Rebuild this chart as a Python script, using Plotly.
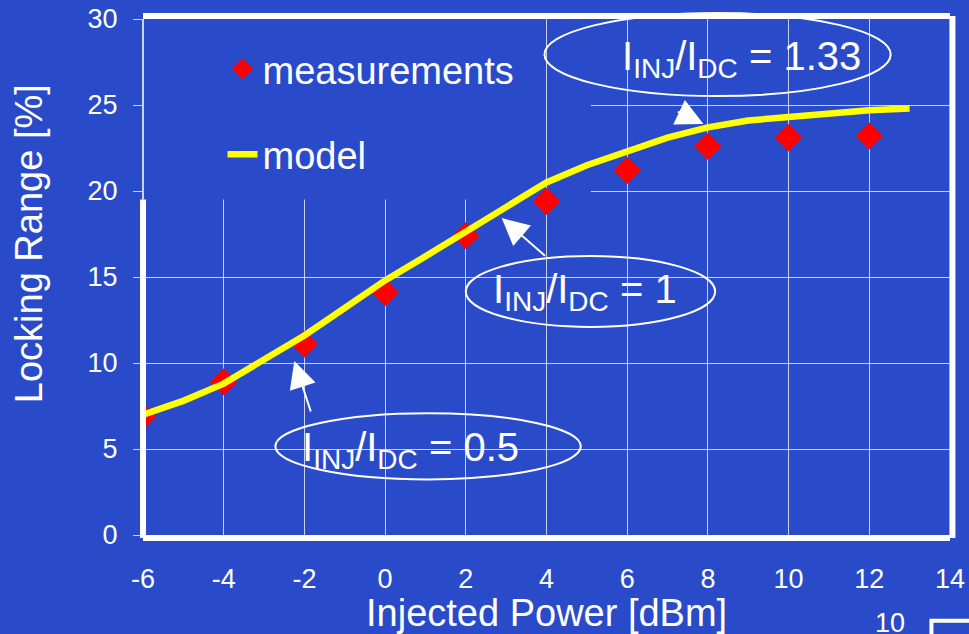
import plotly.graph_objects as go

# ---- data ----
power_meas = [-6, -4, -2, 0, 2, 4, 6, 8, 10, 12]
range_meas = [6.9, 8.9, 11.1, 14.1, 17.4, 19.4, 21.2, 22.6, 23.1, 23.2]

power_model = [-6, -5, -4, -3, -2, -1, 0, 1, 2, 3, 4, 5, 6, 7, 8, 9, 10, 11, 12, 13]
range_model = [7.0, 7.8, 8.8, 10.2, 11.6, 13.2, 14.8, 16.2, 17.6, 19.1, 20.5, 21.5,
               22.3, 23.1, 23.7, 24.1, 24.3, 24.5, 24.7, 24.8]

x_ticks = [-6, -4, -2, 0, 2, 4, 6, 8, 10, 12, 14]
y_ticks = [0, 5, 10, 15, 20, 25, 30]

ratio_labels = ["I<sub>INJ</sub>/I<sub>DC</sub> = 1.33",
                "I<sub>INJ</sub>/I<sub>DC</sub> = 1",
                "I<sub>INJ</sub>/I<sub>DC</sub> = 0.5"]

BG = "#2a4bc9"
FONT = "Liberation Sans, Arial, sans-serif"
GRID = "rgba(255,255,255,0.75)"

fig = go.Figure()
fig.add_trace(go.Scatter(
    x=power_meas, y=range_meas, mode="markers", name="measurements",
    legendgroup="a",
    marker=dict(symbol="diamond", size=21, color="#ff0000", line=dict(width=0)),
))
fig.add_trace(go.Scatter(
    x=power_model, y=range_model, mode="lines", name="model",
    legendgroup="b",
    line=dict(color="#ffff00", width=6.5),
))

XMIN, XMAX, YMIN, YMAX = -6, 14, 0, 30
py = lambda v: (v - YMIN) / (YMAX - YMIN)

shapes = []
# cover for grid in legend area (between grid and traces)
shapes.append(dict(type="rect", xref="x", yref="y", x0=-6, x1=5.1, y0=19.5, y1=30,
                   fillcolor=BG, line=dict(width=0), layer="between"))
shapes.append(dict(type="line", xref="x", yref="y", x0=4, x1=4, y0=19.5, y1=30,
                   line=dict(color=GRID, width=1), layer="between"))
# left border: thick lower part, thin upper part; right border thick
shapes.append(dict(type="line", xref="paper", yref="paper", x0=0, x1=0, y0=-0.006, y1=py(19.5),
                   line=dict(color="white", width=6), layer="above"))
shapes.append(dict(type="line", xref="paper", yref="paper", x0=0, x1=0, y0=py(19.5), y1=1,
                   line=dict(color="white", width=1.5), layer="above"))
shapes.append(dict(type="line", xref="paper", yref="paper", x0=1.003, x1=1.003, y0=-0.006, y1=1.006,
                   line=dict(color="white", width=6), layer="above"))
# ellipses around labels
shapes.append(dict(type="circle", xref="x", yref="paper", x0=3.95, x1=12.53, y0=py(25.52), y1=py(30.35),
                   line=dict(color="white", width=2), layer="above"))
shapes.append(dict(type="circle", xref="x", yref="paper", x0=2.0, x1=8.18, y0=py(12.1), y1=py(16.22),
                   line=dict(color="white", width=2), layer="above"))
shapes.append(dict(type="circle", xref="x", yref="paper", x0=-2.72, x1=4.85, y0=py(3.23), y1=py(7.08),
                   line=dict(color="white", width=2), layer="above"))
# slide-number box fragment
shapes.append(dict(type="rect", xref="paper", yref="paper", x0=0.977, x1=1.2, y0=-0.166, y1=-0.4,
                   line=dict(color="white", width=4), fillcolor="rgba(0,0,0,0)"))

ann = []
txt_font = dict(family=FONT, size=40, color="white")
ann.append(dict(x=8.83, y=27.67, xref="x", yref="y", text=ratio_labels[0], showarrow=False, font=txt_font))
ann.append(dict(x=4.96, y=14.13, xref="x", yref="y", text=ratio_labels[1], showarrow=False, font=txt_font))
ann.append(dict(x=0.63, y=4.94, xref="x", yref="y", text=ratio_labels[2], showarrow=False, font=txt_font))
arrow = dict(showarrow=True, arrowhead=2, arrowsize=2.7, arrowwidth=2, arrowcolor="white",
             xref="x", yref="y", axref="x", ayref="y", text="")
ann.append(dict(arrow, x=7.89, y=23.9, ax=7.22, ay=24.65))
ann.append(dict(arrow, x=2.89, y=18.43, ax=4.0, ay=16.16))
ann.append(dict(arrow, x=-2.25, y=10.12, ax=-1.83, ay=7.09))
# axis titles
ann.append(dict(x=0.5, y=-0.152, xref="paper", yref="paper", text="Injected Power [dBm]",
                showarrow=False, font=dict(family=FONT, size=38, color="white"),
                xanchor="center", yanchor="middle"))
ann.append(dict(x=-0.141, y=0.564, xref="paper", yref="paper", text="Locking Range [%]",
                showarrow=False, textangle=-90, font=dict(family=FONT, size=38, color="white"),
                xanchor="center", yanchor="middle"))
ann.append(dict(x=0.926, y=-0.17, xref="paper", yref="paper", text="10",
                showarrow=False, font=dict(family=FONT, size=27, color="white"),
                xanchor="center", yanchor="middle"))

fig.update_layout(
    width=969, height=634,
    margin=dict(l=143, r=19, t=19, b=99, autoexpand=False),
    paper_bgcolor=BG, plot_bgcolor=BG,
    font=dict(family=FONT, color="white"),
    showlegend=True,
    legend=dict(x=0.0985, y=0.964, xanchor="left", yanchor="top",
                bgcolor="rgba(0,0,0,0)", font=dict(family=FONT, size=38, color="white"),
                tracegroupgap=33),
    shapes=shapes,
    annotations=ann,
    xaxis=dict(range=[XMIN, XMAX], tickmode="array", tickvals=x_ticks,
               ticktext=[str(v) for v in x_ticks], automargin=False,
               showgrid=True, gridcolor=GRID, gridwidth=1, zeroline=False,
               showline=True, linecolor="white", linewidth=6, mirror=True,
               ticks="", ticklabelstandoff=15, ticklabeloverflow="allow",
               tickfont=dict(family=FONT, size=27, color="white")),
    yaxis=dict(range=[YMIN, YMAX], tickmode="array", tickvals=y_ticks,
               ticktext=[str(v) for v in y_ticks], automargin=False,
               showgrid=True, gridcolor=GRID, gridwidth=1, zeroline=False,
               showline=False, ticks="outside", ticklen=9, tickwidth=1, tickcolor=GRID,
               ticklabelstandoff=10, ticklabeloverflow="allow",
               tickfont=dict(family=FONT, size=27, color="white")),
)

fig.write_html(
    "out.html",
    config={"displayModeBar": False},
    post_script="document.body.style.margin='0px';document.body.style.overflow='hidden';"
                "document.body.style.background='" + BG + "';",
)
